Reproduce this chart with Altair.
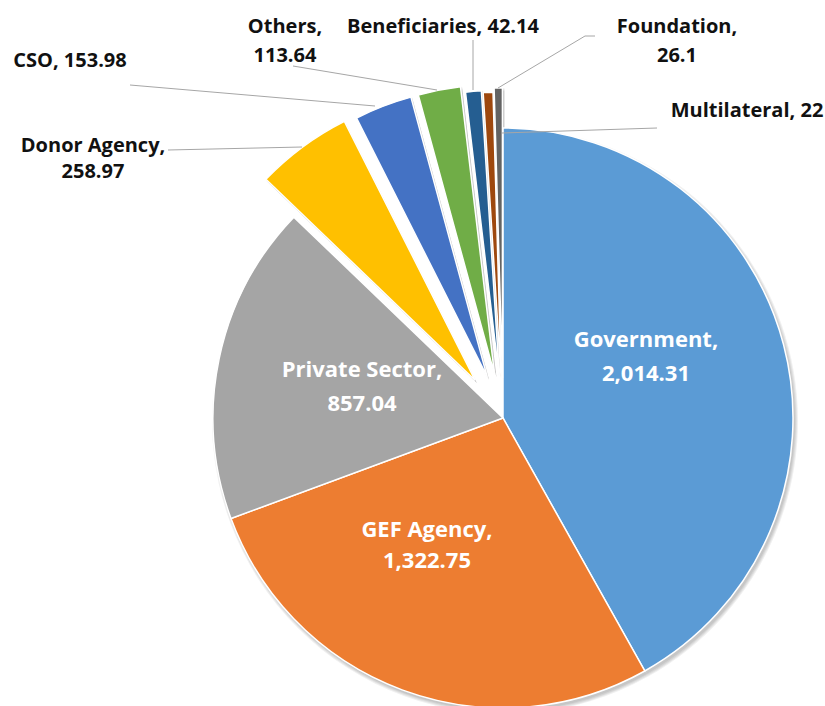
import math
import altair as alt
import pandas as pd

# Co-financing by source
categories = ["Government", "GEF Agency", "Private Sector", "Donor Agency", "CSO",
              "Others", "Beneficiaries", "Foundation", "Multilateral"]
values = [2014.31, 1322.75, 857.04, 258.97, 153.98, 113.64, 42.14, 26.1, 22]

# Styling
colors = ["#5B9BD5", "#ED7D31", "#A5A5A5", "#FFC000", "#4472C4",
          "#70AD47", "#255E91", "#9E480E", "#636363"]
explode = [0, 0, 0, 47, 44, 44, 38, 36, 40]   # px each slice is pulled out
CX, CY, R = 503, 418, 290
W, H = 825, 706
FONT = "Open Sans"

total = sum(values)
df = pd.DataFrame({
    "category": categories,
    "value": values,
    "idx": list(range(len(categories))),
    "explode": explode,
})

base = alt.Chart(df).transform_window(
    cum="sum(value)", sort=[alt.SortField("idx")], frame=[None, 0]
).transform_calculate(
    start="datum.cum - datum.value",
    mid=f"(datum.cum - datum.value / 2) / {total} * 2 * PI",
).transform_calculate(
    cx=f"{CX} + datum.explode * sin(datum.mid)",
    cy=f"{CY} - datum.explode * cos(datum.mid)",
)

theta = alt.Theta("start:Q", scale=alt.Scale(domain=[0, total], range=[0, 2 * math.pi]))

# soft drop shadow below the slices
shadows = []
for k in range(4):
    shadows.append(
        base.transform_calculate(sx="datum.cx + 2", sy="datum.cy + 3")
        .mark_arc(outerRadius=R + k, color="black", opacity=0.06)
        .encode(
            x=alt.X("sx:Q", scale=None, axis=None),
            y=alt.Y("sy:Q", scale=None, axis=None),
            theta=theta, theta2="cum:Q",
        )
    )

slices = base.mark_arc(outerRadius=R, stroke="white", strokeWidth=1.5).encode(
    x=alt.X("cx:Q", scale=None, axis=None),
    y=alt.Y("cy:Q", scale=None, axis=None),
    theta=theta,
    theta2="cum:Q",
    color=alt.Color("category:N", scale=alt.Scale(domain=categories, range=colors), legend=None),
    order=alt.Order("idx:Q"),
)

# Label layout: per category, (center x, baselines, inside?, single line?)
layout = {
    "Government":     (646, [347, 381], True, False),
    "GEF Agency":     (427, [537, 568], True, False),
    "Private Sector": (362, [377, 411], True, False),
    "Donor Agency":   (93,  [152, 178], False, False),
    "CSO":            (70,  [67], False, True),
    "Others":         (285, [33, 62], False, False),
    "Beneficiaries":  (443, [33], False, True),
    "Foundation":     (677, [33, 62], False, False),
    "Multilateral":   (747, [117], False, True),
}

rows = []
for cat, val in zip(categories, values):
    lx, ys, inside, single = layout[cat]
    num = f"{val:,}"
    lines = [f"{cat}, {num}"] if single else [f"{cat},", num]
    for line, ly in zip(lines, ys):
        rows.append({"text": line, "lx": lx, "ly": ly, "inside": inside})
labels = pd.DataFrame(rows)

inner_text = alt.Chart(labels[labels.inside]).mark_text(
    font=FONT, fontWeight="bold", fontSize=22, color="white",
    align="center", baseline="alphabetic",
).encode(x=alt.X("lx:Q", scale=None, axis=None), y=alt.Y("ly:Q", scale=None, axis=None), text="text:N")

outer_text = alt.Chart(labels[~labels.inside]).mark_text(
    font=FONT, fontWeight="bold", fontSize=20, color="#111111",
    align="center", baseline="alphabetic",
).encode(x=alt.X("lx:Q", scale=None, axis=None), y=alt.Y("ly:Q", scale=None, axis=None), text="text:N")

# Leader lines from outer labels to their slices
leaders = pd.DataFrame({
    "x1": [130, 168, 293, 473, 595, 585, 657],
    "y1": [85, 150, 66, 40, 36, 36, 128],
    "x2": [375, 302, 437, 473, 585, 498, 502],
    "y2": [106, 147, 90, 90, 36, 88, 133],
})
leader_rules = alt.Chart(leaders).mark_rule(color="#A6A6A6", strokeWidth=1).encode(
    x=alt.X("x1:Q", scale=None, axis=None), y=alt.Y("y1:Q", scale=None, axis=None),
    x2="x2:Q", y2="y2:Q",
)

chart = alt.layer(*shadows, slices, leader_rules, inner_text, outer_text).properties(
    width=W, height=H, padding=0, autosize=alt.AutoSizeParams(type="none"),
    background="white",
).configure_view(stroke=None)

chart.save("out.html", embed_options={"renderer": "svg", "actions": False})
